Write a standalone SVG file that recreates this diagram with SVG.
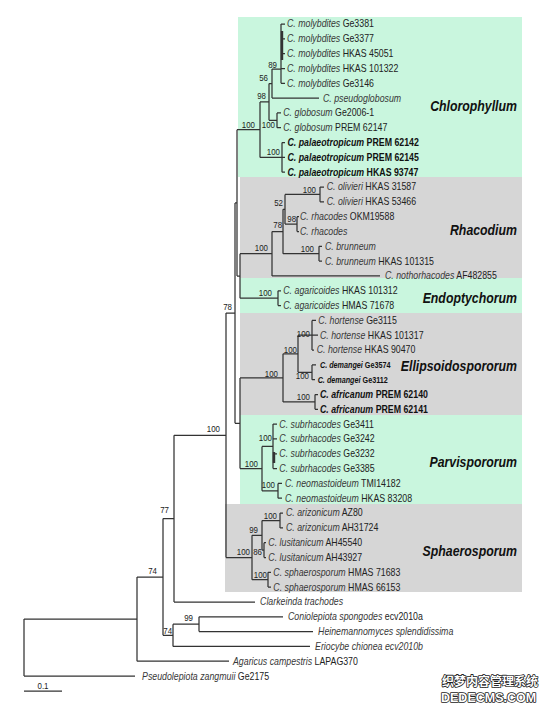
<svg xmlns="http://www.w3.org/2000/svg" width="550" height="711" viewBox="0 0 550 711">
<style>
.ln{fill:none;stroke:#333;stroke-width:1.25}
.tk{fill:none;stroke:#333;stroke-width:2.4}
.lf{font-family:"Liberation Sans",Arial,sans-serif;font-size:10px;fill:#222}
.sp{font-style:italic;fill:#383838}
.b{font-weight:bold;fill:#111}
.dm{font-size:8.2px}
.nl{font-family:"Liberation Sans",Arial,sans-serif;font-size:9px;fill:#222;text-anchor:end}
.gl{font-family:"Liberation Sans",Arial,sans-serif;font-size:14px;font-weight:bold;font-style:italic;fill:#111;text-anchor:end}
.grn{fill:#c9f6de}
.gry{fill:#d6d6d6}
.wm{font-weight:bold;fill:#fff;stroke:#222;stroke-width:1.6;paint-order:stroke;stroke-linejoin:round}
</style>
<rect width="550" height="711" fill="#fff"/>
<g id="clade-boxes">
<rect id="box-chlorophyllum" class="grn" x="238" y="17" width="284" height="160"/>
<rect id="box-rhacodium" class="gry" x="240" y="177" width="282" height="101"/>
<rect id="box-endoptychorum" class="grn" x="240" y="278" width="282" height="35"/>
<rect id="box-ellipsoidospororum" class="gry" x="240" y="313" width="282" height="102"/>
<rect id="box-parvispororum" class="grn" x="240" y="415" width="282" height="89"/>
<rect id="box-sphaerosporum" class="gry" x="225" y="504" width="297" height="88"/>
</g>
<g id="connectors">
<path class="ln" d="M281,24V83.3M281,24H285M281,38.8H285M281,53.6H285M281,68.5H285M281,83.3H285"/>
<path class="tk" d="M282,31V60"/>
<path class="ln" d="M272,69H281M272,69V98.1M272,98.1H319"/>
<path class="ln" d="M277,112.9V127.7M277,112.9H281M277,127.7H281"/>
<path class="ln" d="M269,83.5V120.3M269,83.5H272M269,120.3H277"/>
<path class="ln" d="M282,142.6V172.2M282,142.6H285M282,157.4H285M282,172.2H285"/>
<path class="ln" d="M260,101.9V157.4M260,101.9H269M260,157.4H282"/>
<path class="ln" d="M320,187V201.8M320,187H324M320,201.8H324"/>
<path class="ln" d="M297,216.7V231.5M297,216.7H299M297,231.5H299"/>
<path class="ln" d="M285,194.4V224.1M285,194.4H320M285,224.1H297"/>
<path class="ln" d="M319,246.3V261.1M319,246.3H322M319,261.1H322"/>
<path class="ln" d="M283,209.3V253.7M283,209.3H285M283,253.7H319"/>
<path class="ln" d="M272,231.5V275.9M272,231.5H283M272,275.9H380"/>
<path class="ln" d="M278,290.8V305.6M278,290.8H281M278,305.6H281"/>
<path class="ln" d="M240,253.7V298.2M240,253.7H272M240,298.2H278"/>
<path class="ln" d="M237,129.7V276M237,129.7H260M237,276H240"/>
<path class="ln" d="M312,320.4V350M312,320.4H316M312,335.2H318M312,350H314"/>
<path class="ln" d="M312,364.9V379.7M312,364.9H316M312,379.7H315"/>
<path class="ln" d="M298,335.2V372.3M298,335.2H312M298,372.3H312"/>
<path class="ln" d="M315,394.5V409.3M315,394.5H318M315,409.3H318"/>
<path class="ln" d="M283,353.8V401.9M283,353.8H298M283,401.9H315"/>
<path class="ln" d="M273,424.1V468.6M273,424.1H277M273,438.9H277M273,453.8H277M273,468.6H277"/>
<path class="tk" d="M274,452V463"/>
<path class="ln" d="M278,483.4V498.2M278,483.4H282M278,498.2H282"/>
<path class="ln" d="M262,446.4V490.8M262,446.4H273M262,490.8H278"/>
<path class="ln" d="M240,377.9V468.6M240,377.9H283M240,468.6H262"/>
<path class="ln" d="M235,202.9V423.3M235,202.9H237M235,423.3H240"/>
<path class="ln" d="M280,513V527.9M280,513H283M280,527.9H283"/>
<path class="ln" d="M264,542.7V557.5M264,542.7H266M264,557.5H266"/>
<path class="ln" d="M262,520.5V550.1M262,520.5H280M262,550.1H264"/>
<path class="ln" d="M268,572.3V587.1M268,572.3H271M268,587.1H271"/>
<path class="ln" d="M252,535.3V579.7M252,535.3H262M252,579.7H268"/>
<path class="ln" d="M226,313.1V557.5M226,313.1H235M226,557.5H252"/>
<path class="ln" d="M174,435.3V602M174,435.3H226M174,602H255"/>
<path class="ln" d="M199,616.8V631.6M199,616.8H283M199,631.6H313"/>
<path class="ln" d="M173,624.2V646.4M173,624.2H199M173,646.4H310"/>
<path class="ln" d="M163,518.6V635.3M163,518.6H174M163,635.3H173"/>
<path class="ln" d="M137,577V661.2M137,577H163M137,661.2H229"/>
<path class="ln" d="M24,619.1V676.1M24,619.1H137M24,676.1H135"/>
<path class="ln" d="M24,691H62"/>
</g>
<g id="texts" transform="scale(0.88 1)">
<g id="leaves" class="lf">
<g id="t01"><text x="326.1" y="27.5"><tspan class="sp">C. molybdites</tspan> Ge3381</text></g>
<g id="t02"><text x="326.1" y="42.3"><tspan class="sp">C. molybdites</tspan> Ge3377</text></g>
<g id="t03"><text x="326.1" y="57.1"><tspan class="sp">C. molybdites</tspan> HKAS 45051</text></g>
<g id="t04"><text x="326.1" y="72"><tspan class="sp">C. molybdites</tspan> HKAS 101322</text></g>
<g id="t05"><text x="326.1" y="86.8"><tspan class="sp">C. molybdites</tspan> Ge3146</text></g>
<g id="t06"><text x="367" y="101.6"><tspan class="sp">C. pseudoglobosum</tspan></text></g>
<g id="t07"><text x="321.9" y="116.4"><tspan class="sp">C. globosum</tspan> Ge2006-1</text></g>
<g id="t08"><text x="321.9" y="131.2"><tspan class="sp">C. globosum</tspan> PREM 62147</text></g>
<g id="t09"><text class="b" x="326.7" y="146.1"><tspan class="sp b">C. palaeotropicum</tspan> PREM 62142</text></g>
<g id="t10"><text class="b" x="326.7" y="160.9"><tspan class="sp b">C. palaeotropicum</tspan> PREM 62145</text></g>
<g id="t11"><text class="b" x="326.7" y="175.7"><tspan class="sp b">C. palaeotropicum</tspan> HKAS 93747</text></g>
<g id="t12"><text x="371.3" y="190.5"><tspan class="sp">C. olivieri</tspan> HKAS 31587</text></g>
<g id="t13"><text x="371.3" y="205.3"><tspan class="sp">C. olivieri</tspan> HKAS 53466</text></g>
<g id="t14"><text x="340.9" y="220.2"><tspan class="sp">C. rhacodes</tspan> OKM19588</text></g>
<g id="t15"><text x="340.9" y="235"><tspan class="sp">C. rhacodes</tspan></text></g>
<g id="t16"><text x="369.3" y="249.8"><tspan class="sp">C. brunneum</tspan></text></g>
<g id="t17"><text x="369.3" y="264.6"><tspan class="sp">C. brunneum</tspan> HKAS 101315</text></g>
<g id="t18"><text x="437.5" y="279.4"><tspan class="sp">C. nothorhacodes</tspan> AF482855</text></g>
<g id="t19"><text x="321.9" y="294.3"><tspan class="sp">C. agaricoides</tspan> HKAS 101312</text></g>
<g id="t20"><text x="321.9" y="309.1"><tspan class="sp">C. agaricoides</tspan> HMAS 71678</text></g>
<g id="t21"><text x="361.7" y="323.9"><tspan class="sp">C. hortense</tspan> Ge3115</text></g>
<g id="t22"><text x="363.6" y="338.7"><tspan class="sp">C. hortense</tspan> HKAS 101317</text></g>
<g id="t23"><text x="359.9" y="353.5"><tspan class="sp">C. hortense</tspan> HKAS 90470</text></g>
<g id="t24"><text class="b dm" x="363.6" y="368.2"><tspan class="sp b">C. demangei</tspan> Ge3574</text></g>
<g id="t25"><text class="b dm" x="361" y="383"><tspan class="sp b">C. demangei</tspan> Ge3112</text></g>
<g id="t26"><text class="b" x="363.6" y="398"><tspan class="sp b">C. africanum</tspan> PREM 62140</text></g>
<g id="t27"><text class="b" x="363.6" y="412.8"><tspan class="sp b">C. africanum</tspan> PREM 62141</text></g>
<g id="t28"><text x="317.4" y="427.6"><tspan class="sp">C. subrhacodes</tspan> Ge3411</text></g>
<g id="t29"><text x="317.4" y="442.4"><tspan class="sp">C. subrhacodes</tspan> Ge3242</text></g>
<g id="t30"><text x="317.4" y="457.3"><tspan class="sp">C. subrhacodes</tspan> Ge3232</text></g>
<g id="t31"><text x="317.4" y="472.1"><tspan class="sp">C. subrhacodes</tspan> Ge3385</text></g>
<g id="t32"><text x="323.9" y="486.9"><tspan class="sp">C. neomastoideum</tspan> TMI14182</text></g>
<g id="t33"><text x="323.9" y="501.7"><tspan class="sp">C. neomastoideum</tspan> HKAS 83208</text></g>
<g id="t34"><text x="325" y="516.5"><tspan class="sp">C. arizonicum</tspan> AZ80</text></g>
<g id="t35"><text x="325" y="531.4"><tspan class="sp">C. arizonicum</tspan> AH31724</text></g>
<g id="t36"><text x="304.9" y="546.2"><tspan class="sp">C. lusitanicum</tspan> AH45540</text></g>
<g id="t37"><text x="304.9" y="561"><tspan class="sp">C. lusitanicum</tspan> AH43927</text></g>
<g id="t38"><text x="310.6" y="575.8"><tspan class="sp">C. sphaerosporum</tspan> HMAS 71683</text></g>
<g id="t39"><text x="310.6" y="590.6"><tspan class="sp">C. sphaerosporum</tspan> HMAS 66153</text></g>
<g id="t40"><text x="295.5" y="605.5"><tspan class="sp">Clarkeinda trachodes</tspan></text></g>
<g id="t41"><text x="327.3" y="620.3"><tspan class="sp">Coniolepiota spongodes</tspan> ecv2010a</text></g>
<g id="t42"><text x="361.4" y="635.1"><tspan class="sp">Heinemannomyces splendidissima</tspan></text></g>
<g id="t43"><text x="358" y="649.9"><tspan class="sp">Eriocybe chionea ecv2010b</tspan></text></g>
<g id="t44"><text x="264.8" y="664.7"><tspan class="sp">Agaricus campestris</tspan> LAPAG370</text></g>
<g id="t45"><text x="161.4" y="679.6"><tspan class="sp">Pseudolepiota zangmuii</tspan> Ge2175</text></g>
</g>
<g id="support-values" class="nl">
<text x="314.8" y="68.2">89</text>
<text x="304.5" y="81.5">56</text>
<text x="302.3" y="99.2">98</text>
<text x="312.5" y="128.2">100</text>
<text x="289.8" y="128">100</text>
<text x="318.2" y="155.5">100</text>
<text x="359.1" y="193.2">100</text>
<text x="321.6" y="206.5">52</text>
<text x="336.4" y="221.9">98</text>
<text x="320.5" y="228.2">78</text>
<text x="304.5" y="251.2">100</text>
<text x="356.8" y="251.9">100</text>
<text x="309.1" y="295.9">100</text>
<text x="263.6" y="310.5">78</text>
<text x="352.3" y="337.5">100</text>
<text x="337.5" y="353.2">100</text>
<text x="351.1" y="379.2">100</text>
<text x="315.9" y="377.2">100</text>
<text x="352.3" y="399.9">100</text>
<text x="309.1" y="441.5">100</text>
<text x="293.2" y="467.2">100</text>
<text x="312.5" y="488.2">100</text>
<text x="314.8" y="519.2">100</text>
<text x="293.2" y="533.2">99</text>
<text x="284.1" y="555.2">100</text>
<text x="297.7" y="554.9">86</text>
<text x="303.4" y="578.2">100</text>
<text x="250" y="432.2">100</text>
<text x="192" y="513.2">77</text>
<text x="178.4" y="573.9">74</text>
<text x="195.5" y="633.9">74</text>
<text x="219.3" y="621.2">99</text>
<text x="48.9" y="689.5" style="text-anchor:middle">0.1</text>
</g>
<g id="clade-labels" class="gl">
<text x="587.5" y="111">Chlorophyllum</text>
<text x="587.5" y="235">Rhacodium</text>
<text x="587.5" y="303">Endoptychorum</text>
<text x="587.5" y="371">Ellipsoidospororum</text>
<text x="587.5" y="467">Parvispororum</text>
<text x="587.5" y="556">Sphaerosporum</text>
</g>
</g>
<g id="watermark">
<text class="wm" x="442" y="686" style="font-family:'Noto Sans CJK SC','Noto Sans CJK JP',sans-serif;font-size:12px">织梦内容管理系统</text>
<text class="wm" x="441" y="702" style="font-family:'Liberation Sans',Arial,sans-serif;font-size:12.5px">DEDECMS.COM</text>
</g>
</svg>
